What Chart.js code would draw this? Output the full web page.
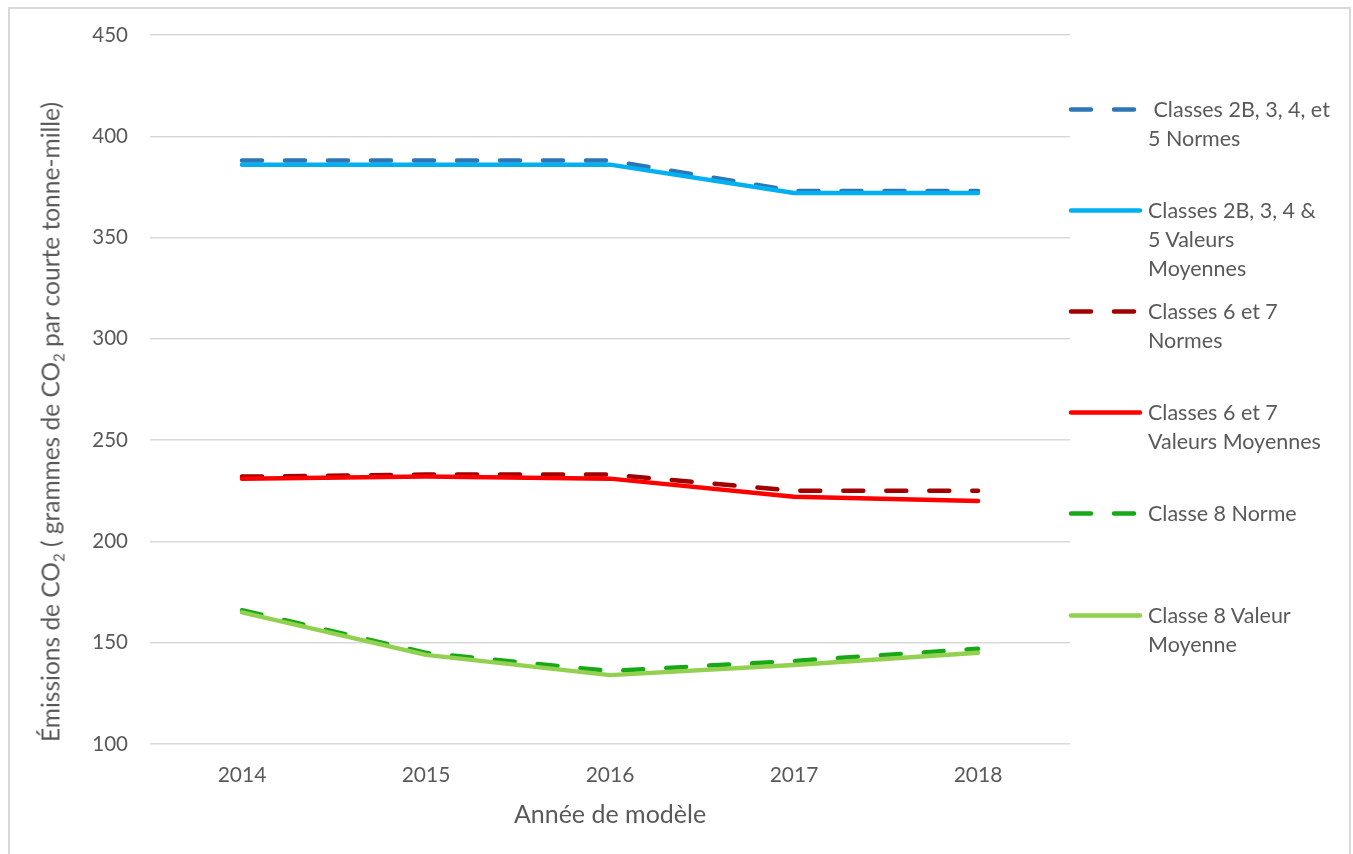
<!DOCTYPE html>
<html lang="fr">
<head>
<meta charset="utf-8">
<title>Émissions de CO2</title>
<script src="https://cdn.jsdelivr.net/npm/chart.js@4.4.3/dist/chart.umd.min.js"></script>
<style>
  html, body { margin: 0; padding: 0; background: #fff; }
  body { width: 1353px; height: 854px; position: relative; overflow: hidden; font-family: Lato, 'Open Sans', sans-serif; color: #595959; }
  #frame { position: absolute; left: 8px; top: 7px; width: 1343px; height: 870px; border: 2px solid #d9d9d9; box-sizing: border-box; }
  #wrap { position: absolute; left: 0; top: 0; width: 1353px; height: 854px; }
  #ytitle { position: absolute; left: 50px; top: 422px; transform: translate(-50%, -50%) rotate(-90deg); white-space: nowrap; font-size: 24.5px; }
  #ytitle sub { font-size: 15px; vertical-align: -5px; line-height: 0; }
  .leg { position: absolute; left: 1066px; font-size: 21.5px; line-height: 29px; white-space: pre; }
  .leg svg { position: absolute; left: 0; top: 0; }
  .leg span { position: absolute; left: 82px; top: 0; }
</style>
</head>
<body>
<div id="frame"></div>
<div id="wrap"><canvas id="chart" width="1353" height="854"></canvas></div>
<div id="ytitle">Émissions de CO<sub>2</sub> ( grammes de CO<sub>2</sub> par courte tonne-mille)</div>
<div id="legend"></div>
<script>
// Données
const years = ['2014', '2015', '2016', '2017', '2018'];

const cls2bNormes   = [388, 388, 388, 373, 373];
const cls2bMoyennes = [386, 386, 386, 372, 372];
const cls67Normes   = [232, 233, 233, 225, 225];
const cls67Moyennes = [231, 232, 231, 222, 220];
const cls8Norme     = [166, 145, 136, 141, 147];
const cls8Moyenne   = [165, 144, 134, 139, 145];

const seriesNames = [
  [' Classes 2B, 3, 4, et', '5 Normes'],
  ['Classes 2B, 3, 4 &', '5 Valeurs', 'Moyennes'],
  ['Classes 6 et 7', 'Normes'],
  ['Classes 6 et 7', 'Valeurs Moyennes'],
  ['Classe 8 Norme'],
  ['Classe 8 Valeur', 'Moyenne'],
];
const seriesValues = [cls2bNormes, cls2bMoyennes, cls67Normes, cls67Moyennes, cls8Norme, cls8Moyenne];
const seriesColors = ['#2e75b6', '#00b0f0', '#a00000', '#ff0000', '#17a817', '#92d050'];
const seriesDashed = [true, false, true, false, true, false];

const yTicks = [100, 150, 200, 250, 300, 350, 400, 450];

const DASH = [20, 23];
const grey = '#d9d9d9';
const textCol = '#595959';

const datasets = seriesValues.map((vals, i) => ({
  label: seriesNames[i].join(' ').trim(),
  data: vals,
  borderColor: seriesColors[i],
  backgroundColor: seriesColors[i],
  borderWidth: 4.5,
  borderDash: seriesDashed[i] ? DASH : [],
  borderCapStyle: 'round',
  borderJoinStyle: 'round',
  pointRadius: 0,
  tension: 0,
  fill: false,
  order: seriesValues.length - i, // les séries suivantes par-dessus
}));

new Chart(document.getElementById('chart'), {
  type: 'line',
  data: { labels: years, datasets },
  options: {
    responsive: false,
    animation: false,
    devicePixelRatio: 1,
    layout: { padding: { left: 0, right: 283, top: 35, bottom: 20 } },
    plugins: { legend: { display: false }, tooltip: { enabled: false } },
    scales: {
      x: {
        offset: true,
        grid: { display: false, drawTicks: false },
        border: { display: false },
        ticks: { color: textCol, font: { family: 'Lato', size: 21 }, padding: 19 },
        title: { display: true, text: 'Année de modèle', color: textCol, font: { family: 'Lato', size: 25 }, padding: { top: 10 } },
        afterFit: s => { s.height = 90; },
      },
      y: {
        min: 100,
        max: 450,
        afterBuildTicks: s => { s.ticks = yTicks.map(v => ({ value: v })); },
        grid: { color: grey, lineWidth: 1.5, drawTicks: false },
        border: { display: false },
        ticks: { color: textCol, font: { family: 'Lato', size: 20.5 }, padding: 22 },
        afterFit: s => { s.width = 150; },
      },
    },
  },
});

// Légende HTML (texte sur plusieurs lignes comme l'original)
const legendEl = document.getElementById('legend');
legendEl.innerHTML = seriesNames.map((lines, i) => {
  const top = 109 + i * 101.2 - 14.5;
  const dash = seriesDashed[i] ? `stroke-dasharray="${DASH.join(' ')}"` : '';
  return `
    <div class="leg" style="top:${top}px">
      <svg width="80" height="29"><line x1="5" y1="14.5" x2="74" y2="14.5" stroke="${seriesColors[i]}" stroke-width="4.5" stroke-linecap="round" ${dash}/></svg>
      <span>${lines.join('\n')}</span>
    </div>`;
}).join('');
</script>
</body>
</html>
